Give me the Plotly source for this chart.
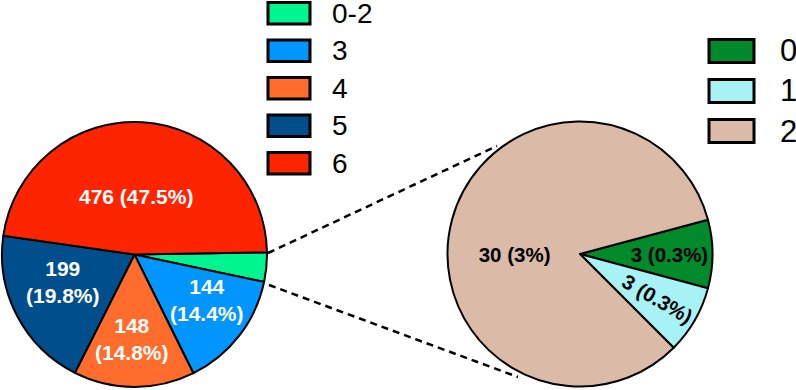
import math
import plotly.graph_objects as go

# ---- data ----
left_labels = ["0-2", "3", "4", "5", "6"]
left_values = [36, 144, 148, 199, 476]
left_colors = ["#00F590", "#0095FF", "#FF6C2C", "#004E8C", "#FF2400"]

right_labels = ["0", "1", "2"]
right_values = [3, 3, 30]
right_colors = ["#008A2B", "#A6F2F5", "#DBBBA7"]

total = sum(left_values)

W, H = 796, 390
FONT = "Arial, Liberation Sans, sans-serif"

# label placement style for the left pie: (radius fraction, angle nudge in degrees)
LEFT_LABEL_STYLE = {"3": (0.645, 5.5), "4": (0.635, -1.5), "5": (0.578, -6.5), "6": (0.44, 2)}


def pct(v):
    return f"{round(v / total * 100, 1):g}%"


right_text = [f"{v} ({pct(v)})" for v in right_values]

# pie geometry (pixels)
L_X0, L_X1, L_TOP, L_BOT = 2, 267, 122, 387
R_X0, R_X1, R_TOP, R_BOT = 447.5, 712.5, 121.5, 386.5
L_ROT, R_ROT = 89, 75


def px_dom_x(a, b):
    return [a / W, b / W]


def px_dom_y(top, bottom):
    return [(H - bottom) / H, (H - top) / H]


fig = go.Figure()

fig.add_trace(go.Pie(
    labels=left_labels, values=left_values,
    textinfo="none",
    marker=dict(colors=left_colors, line=dict(color="black", width=2)),
    sort=False, direction="clockwise", rotation=L_ROT,
    domain=dict(x=px_dom_x(L_X0, L_X1), y=px_dom_y(L_TOP, L_BOT)),
    showlegend=False, hoverinfo="label+value",
))

fig.add_trace(go.Pie(
    labels=right_labels, values=right_values, text=right_text,
    texttemplate="%{text}", textposition="inside",
    insidetextorientation="radial",
    textfont=dict(family=FONT, size=20.5, color="black", weight="bold"),
    marker=dict(colors=right_colors, line=dict(color="black", width=2)),
    sort=False, direction="clockwise", rotation=R_ROT,
    domain=dict(x=px_dom_x(R_X0, R_X1), y=px_dom_y(R_TOP, R_BOT)),
    showlegend=False, hoverinfo="label+value",
))

shapes = []
annotations = []

# left pie value labels, placed along each slice's mid-angle
cx, cy = (L_X0 + L_X1) / 2, (L_TOP + L_BOT) / 2
rad = (L_X1 - L_X0) / 2
start = 90 - L_ROT
cum = 0
for lab, v in zip(left_labels, left_values):
    mid = start - (cum + v / 2) / total * 360
    cum += v
    if lab not in LEFT_LABEL_STYLE:
        continue
    big = v / total > 0.3
    txt = f"{v} ({pct(v)})" if big else f"{v}<br>({pct(v)})"
    rf, nudge = LEFT_LABEL_STYLE[lab]
    ang = math.radians(mid + nudge)
    x = cx + rf * rad * math.cos(ang)
    y = cy - rf * rad * math.sin(ang)
    annotations.append(dict(xref="paper", yref="paper", x=x / W, y=(H - y) / H,
                            xanchor="center", yanchor="middle", text=txt,
                            showarrow=False,
                            font=dict(family=FONT, size=21, color="white",
                                      weight="bold")))


# connector dashed lines (pixel coords -> paper)
def seg(x0, y0, x1, y1):
    return dict(type="line", xref="paper", yref="paper",
                x0=x0 / W, y0=(H - y0) / H, x1=x1 / W, y1=(H - y1) / H,
                line=dict(color="black", width=2.5, dash="7px,5px"))


shapes.append(seg(268, 253, 497, 146))
shapes.append(seg(269, 285, 518, 377))


# custom legends
def legend(labels, colors, x0, x1, top0, h, step, tx, fsize):
    for i, (lab, col) in enumerate(zip(labels, colors)):
        t = top0 + i * step
        shapes.append(dict(type="rect", xref="paper", yref="paper",
                           x0=x0 / W, x1=x1 / W,
                           y0=(H - t - h) / H, y1=(H - t) / H,
                           fillcolor=col, line=dict(color="black", width=3)))
        annotations.append(dict(xref="paper", yref="paper",
                                x=tx / W, y=(H - (t + h / 2)) / H,
                                xanchor="left", yanchor="middle",
                                text=lab, showarrow=False,
                                font=dict(family=FONT, size=fsize, color="black")))


legend(left_labels, left_colors, 268, 310, 2.5, 21.5, 37.5, 330, 28)
legend(right_labels, right_colors, 709, 754, 39.5, 23, 40, 778, 31)

fig.update_layout(
    width=W, height=H,
    margin=dict(l=0, r=0, t=0, b=0),
    paper_bgcolor="white", plot_bgcolor="white",
    shapes=shapes, annotations=annotations,
    showlegend=False,
)

fig.write_html(
    "out.html",
    config={"displayModeBar": False},
    post_script="document.body.style.margin='0';document.body.style.padding='0';"
                "document.body.style.overflow='hidden';",
)
